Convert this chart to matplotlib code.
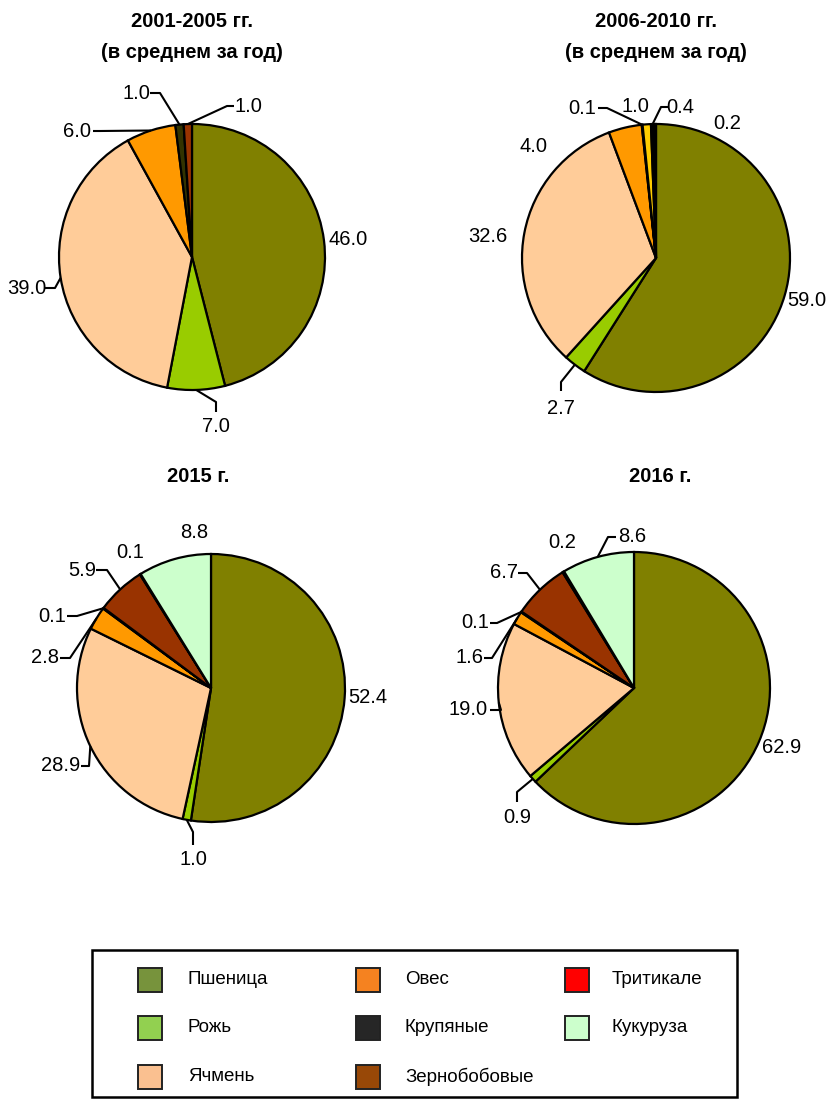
import numpy as np
import matplotlib
matplotlib.use("Agg")
import matplotlib.pyplot as plt
from matplotlib.patches import Rectangle

plt.rcParams['font.family'] = ['Liberation Sans', 'DejaVu Sans']

# -------------------------------
# Data (shares, %)
# -------------------------------
crops = ["Пшеница", "Рожь", "Ячмень", "Овес", "Крупяные",
         "Зернобобовые", "Тритикале", "Кукуруза"]
legend_colors = ["#77933C", "#92D050", "#FAC090", "#F58220", "#262626",
                 "#984807", "#FF0000", "#CCFFCC"]

titles = ["2001-2005 гг.\n(в среднем за год)", "2006-2010 гг.\n(в среднем за год)",
          "2015 г.", "2016 г."]

vals_2001_2005 = [46.0, 7.0, 39.0, 6.0, 1.0, 1.0]
vals_2006_2010 = [59.0, 2.7, 32.6, 4.0, 0.1, 1.0, 0.4, 0.2]
vals_2015 = [52.4, 1.0, 28.9, 2.8, 0.1, 5.9, 0.1, 8.8]
vals_2016 = [62.9, 0.9, 19.0, 1.6, 0.1, 6.7, 0.2, 8.6]

colors_2001_2005 = ["#808000", "#99CC00", "#FFCC99", "#FF9900", "#333300", "#993300"]
colors_2006_2010 = ["#808000", "#99CC00", "#FFCC99", "#FF9900", "#000000", "#FFCC00",
                    "#000000", "#FF0000"]
colors_2015 = ["#808000", "#99CC00", "#FFCC99", "#FF9900", "#000000", "#993300",
               "#FF0000", "#CCFFCC"]
colors_2016 = colors_2015

# -------------------------------
# Layout (pixels, y from top)
# -------------------------------
# pie centre x, centre y, radius, title x, title y
layout = [
    (192, 257, 133, 192, 37),
    (656, 258, 134, 656, 37),
    (211, 688, 134, 198, 476),
    (634, 688, 136, 660, 476),
]

# label text position, and leader line (elbow, end) or None
labels_pos = [
    [((348, 239), None),
     ((216, 427), ((216, 402), (216, 412))),
     ((27, 288), ((55, 288), (45, 288))),
     ((77, 131), ((100, 131), (93, 131))),
     ((136, 93), ((160, 93), (150, 93))),
     ((248, 106), ((227, 106), (234, 106)))],
    [((807, 300), None),
     ((561, 408), ((561, 382), (561, 391))),
     ((488, 236), None),
     ((534, 146), None),
     ((582, 108), ((607, 108), (598, 108))),
     ((635, 106), None),
     ((680, 107), ((661, 107), (668, 107))),
     ((727, 123), None)],
    [((368, 698), None),
     ((193, 860), ((193, 832), (193, 845))),
     ((61, 766), ((89, 766), (81, 766))),
     ((45, 658), ((70, 658), (60, 658))),
     ((52, 616), ((77, 616), (67, 616))),
     ((82, 570), ((107, 570), (96, 570))),
     ((130, 552), None),
     ((194, 533), None)],
    [((782, 748), None),
     ((517, 818), ((517, 792), (517, 802))),
     ((468, 710), ((501, 710), (490, 710))),
     ((470, 658), ((492, 658), (484, 658))),
     ((475, 623), ((497, 623), (490, 623))),
     ((504, 573), ((527, 573), (518, 573))),
     ((562, 543), None),
     ((632, 537), ((608, 537), (616, 537)))],
]

all_vals = [vals_2001_2005, vals_2006_2010, vals_2015, vals_2016]
all_colors = [colors_2001_2005, colors_2006_2010, colors_2015, colors_2016]

W, H = 829, 1100
fig = plt.figure(figsize=(W / 100, H / 100), dpi=100)
ax = fig.add_axes([0, 0, 1, 1])

for vals, cols, (cx, cy, r, tx, ty), lab, title in zip(
        all_vals, all_colors, layout, labels_pos, titles):
    # y axis is inverted, so counterclock in data = clockwise on screen
    wedges, _ = ax.pie(vals, colors=cols, startangle=-90, counterclock=True,
                       center=(cx, cy), radius=r, frame=True,
                       wedgeprops=dict(edgecolor="black", linewidth=1.6))
    for w, v, (tpos, leader) in zip(wedges, vals, lab):
        ax.text(tpos[0], tpos[1], f"{v:.1f}", ha="center", va="center",
                fontsize=14.5, color="black")
        if leader is not None:
            mid = np.deg2rad((w.theta1 + w.theta2) / 2)
            ex, ey = cx + r * np.cos(mid), cy + r * np.sin(mid)
            (bx, by), (sx, sy) = leader
            ax.plot([ex, bx, sx], [ey, by, sy], color="black", lw=1.5,
                    solid_capstyle="butt", zorder=5)
    ax.text(tx, ty, title, ha="center", va="center", fontsize=14.5,
            fontweight="bold", linespacing=1.75)

# -------------------------------
# Legend box
# -------------------------------
ax.add_patch(Rectangle((92, 950), 645, 147, fill=False, edgecolor="black", lw=1.8))
col_x = [138, 356, 565]
text_x = [188, 405, 612]
row_y = [980, 1028, 1077]
for i, (name, c) in enumerate(zip(crops, legend_colors)):
    col, row = i // 3, i % 3
    ax.add_patch(Rectangle((col_x[col], row_y[row] - 12), 24, 24,
                           facecolor=c, edgecolor="#222222", lw=1.4))
    ax.text(text_x[col], row_y[row], name, ha="left", va="center", fontsize=13.5)

ax.set_xlim(0, W)
ax.set_ylim(H, 0)
ax.set_aspect("equal")
ax.axis("off")

fig.savefig("out.png", dpi=100)
